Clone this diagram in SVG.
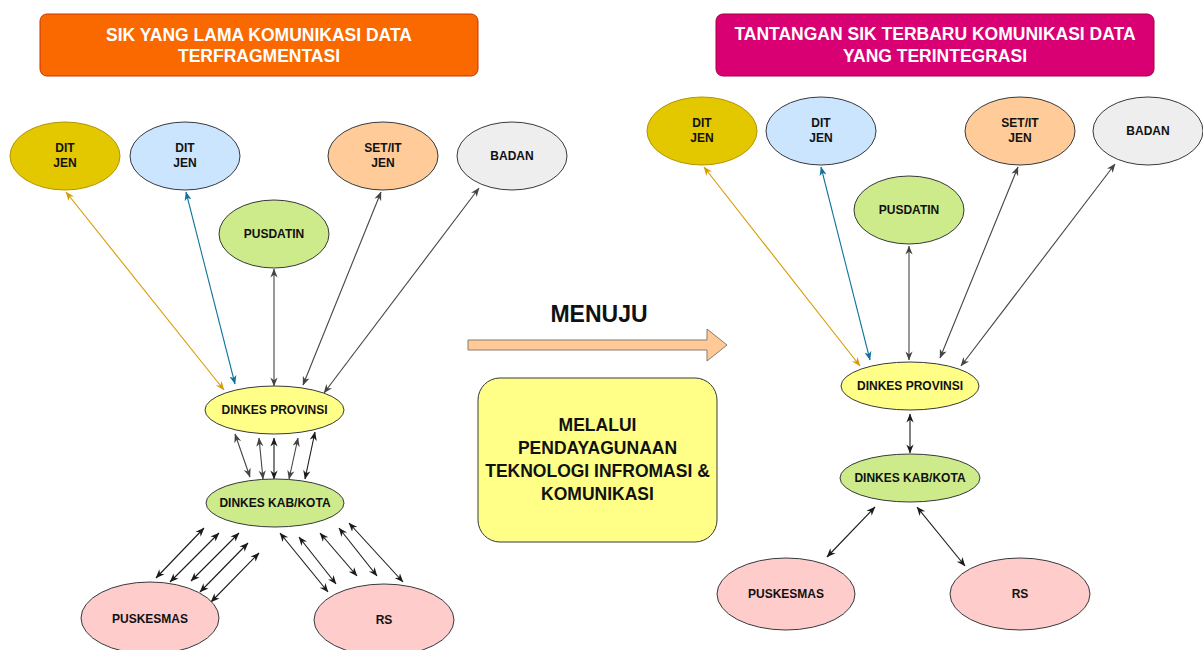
<svg xmlns="http://www.w3.org/2000/svg" width="1203" height="650" viewBox="0 0 1203 650">
  <style>
    .hdr { font-family: "Liberation Sans", Arial, sans-serif; font-weight: bold; font-size: 17.5px; fill: #ffffff; text-anchor: middle; }
    .lbl { font-family: "Liberation Sans", Arial, sans-serif; font-weight: bold; font-size: 12px; fill: #111111; text-anchor: middle; }
    .big { font-family: "Liberation Sans", Arial, sans-serif; font-weight: bold; font-size: 17.5px; fill: #111111; text-anchor: middle; }
    .node { stroke: #36393d; stroke-width: 1; }
    .gold { fill: #e3c800; stroke: #b09500; stroke-width: 1; }
    .blue { fill: #cce5ff; }
    .green { fill: #cdeb8b; }
    .peach { fill: #ffcc99; }
    .grey { fill: #eeeeee; }
    .yellow { fill: #ffff88; }
    .pink { fill: #ffcccc; }
    .c { fill: none; stroke-width: 1.1; }
    .ck { stroke: #1a1a1a; marker-start: url(#ah-k); marker-end: url(#ah-k); }
    .cg { stroke: #444444; marker-start: url(#ah-g); marker-end: url(#ah-g); }
    .cy { stroke: #d79b00; marker-start: url(#ah-y); marker-end: url(#ah-y); }
    .cb { stroke: #10739e; marker-start: url(#ah-b); marker-end: url(#ah-b); }
  </style>
  <defs>
    <marker id="ah-k" viewBox="0 0 10 10" refX="9.5" refY="5" markerWidth="9" markerHeight="9" markerUnits="userSpaceOnUse" orient="auto-start-reverse">
      <path d="M0,1 L10,5 L0,9 L3,5 z" fill="#1a1a1a"/>
    </marker>
    <marker id="ah-g" viewBox="0 0 10 10" refX="9.5" refY="5" markerWidth="9" markerHeight="9" markerUnits="userSpaceOnUse" orient="auto-start-reverse">
      <path d="M0,1 L10,5 L0,9 L3,5 z" fill="#444444"/>
    </marker>
    <marker id="ah-y" viewBox="0 0 10 10" refX="9.5" refY="5" markerWidth="9" markerHeight="9" markerUnits="userSpaceOnUse" orient="auto-start-reverse">
      <path d="M0,1 L10,5 L0,9 L3,5 z" fill="#d79b00"/>
    </marker>
    <marker id="ah-b" viewBox="0 0 10 10" refX="9.5" refY="5" markerWidth="9" markerHeight="9" markerUnits="userSpaceOnUse" orient="auto-start-reverse">
      <path d="M0,1 L10,5 L0,9 L3,5 z" fill="#10739e"/>
    </marker>
  </defs>

  <rect width="1203" height="650" fill="#ffffff"/>

  <!-- headers -->
  <g id="header-old">
    <rect x="40" y="14" width="438" height="62" rx="7" fill="#fa6800" stroke="#c73500"/>
    <text class="hdr" x="259" y="41">SIK YANG LAMA KOMUNIKASI DATA</text>
    <text class="hdr" x="259" y="62">TERFRAGMENTASI</text>
  </g>
  <g id="header-new">
    <rect x="716" y="14" width="438" height="62" rx="7" fill="#d80073" stroke="#a50040"/>
    <text class="hdr" x="935" y="40">TANTANGAN SIK TERBARU KOMUNIKASI DATA</text>
    <text class="hdr" x="935" y="62">YANG TERINTEGRASI</text>
  </g>

  <!-- connectors -->
  <g id="connectors">
    <!-- fragmented: each unit talks to the province separately -->
    <path class="c cy" d="M66,192 L224,390"/>
    <path class="c cb" d="M186,192 L235,384"/>
    <path class="c cg" d="M274,269 L274,386"/>
    <path class="c cg" d="M381,192 L303,385"/>
    <path class="c cg" d="M479,188 L324,393"/>

    <path class="c cg" d="M235,434 L250,477"/>
    <path class="c cg" d="M259,438 L263,479"/>
    <path class="c ck" d="M274,438 L274,479"/>
    <path class="c cg" d="M298,438 L289,479"/>
    <path class="c ck" d="M315,432 L305,479"/>

    <path class="c ck" d="M156,578 L204,528"/>
    <path class="c ck" d="M170,582 L219,533"/>
    <path class="c ck" d="M191,581 L239,533"/>
    <path class="c ck" d="M200,592 L248,543"/>
    <path class="c ck" d="M211,602 L259,553"/>

    <path class="c ck" d="M280,533 L328,592"/>
    <path class="c ck" d="M299,537 L336,584"/>
    <path class="c ck" d="M320,533 L357,576"/>
    <path class="c ck" d="M339,528 L377,576"/>
    <path class="c ck" d="M349,523 L403,582"/>

    <!-- integrated: single channel per level -->
    <path class="c cy" d="M704,167 L860,366"/>
    <path class="c cb" d="M821,167 L870,360"/>
    <path class="c cg" d="M909,246 L909,360"/>
    <path class="c cg" d="M1018,167 L940,358"/>
    <path class="c cg" d="M1115,164 L961,366"/>

    <path class="c ck" d="M910,414 L910,453"/>
    <path class="c ck" d="M875,507 L827,557"/>
    <path class="c ck" d="M917,507 L965,566"/>
  </g>

  <!-- left side nodes -->
  <g id="l-ditjen1"><ellipse class="gold" cx="65" cy="156" rx="55" ry="34"/><text class="lbl" x="65" y="152">DIT</text><text class="lbl" x="65" y="167">JEN</text></g>
  <g id="l-ditjen2"><ellipse class="node blue" cx="185" cy="156" rx="55" ry="34"/><text class="lbl" x="185" y="152">DIT</text><text class="lbl" x="185" y="167">JEN</text></g>
  <g id="l-pusdatin"><ellipse class="node green" cx="274" cy="234" rx="55" ry="34"/><text class="lbl" x="274" y="238">PUSDATIN</text></g>
  <g id="l-setitjen"><ellipse class="node peach" cx="383" cy="156" rx="55" ry="34"/><text class="lbl" x="383" y="152">SET/IT</text><text class="lbl" x="383" y="167">JEN</text></g>
  <g id="l-badan"><ellipse class="node grey" cx="512" cy="156" rx="55" ry="34"/><text class="lbl" x="512" y="160">BADAN</text></g>
  <g id="l-prov"><ellipse class="node yellow" cx="274.5" cy="410" rx="69.5" ry="24"/><text class="lbl" x="274.5" y="414">DINKES PROVINSI</text></g>
  <g id="l-kab"><ellipse class="node green" cx="275" cy="503" rx="69" ry="24"/><text class="lbl" x="275" y="507">DINKES KAB/KOTA</text></g>
  <g id="l-puskesmas"><ellipse class="node pink" cx="150" cy="618" rx="69" ry="36"/><text class="lbl" x="150" y="623">PUSKESMAS</text></g>
  <g id="l-rs"><ellipse class="node pink" cx="384" cy="620" rx="70" ry="36"/><text class="lbl" x="384" y="624">RS</text></g>

  <!-- transition -->
  <g id="menuju">
    <text x="599" y="322" font-family="Liberation Sans, Arial, sans-serif" font-weight="bold" font-size="23" fill="#111111" text-anchor="middle">MENUJU</text>
    <polygon points="468,340 707,340 707,329 727,345 707,361 707,350 468,350" fill="#ffc998" stroke="#8a7a6a" stroke-width="1"/>
  </g>
  <g id="melalui">
    <rect x="478" y="378" width="239" height="164" rx="22" fill="#ffff88" stroke="#36393d"/>
    <text class="big" x="597.5" y="431">MELALUI</text>
    <text class="big" x="597.5" y="454">PENDAYAGUNAAN</text>
    <text class="big" x="597.5" y="477">TEKNOLOGI INFROMASI &amp;</text>
    <text class="big" x="597.5" y="500">KOMUNIKASI</text>
  </g>

  <!-- right side nodes -->
  <g id="r-ditjen1"><ellipse class="gold" cx="702" cy="131" rx="55" ry="34"/><text class="lbl" x="702" y="127">DIT</text><text class="lbl" x="702" y="142">JEN</text></g>
  <g id="r-ditjen2"><ellipse class="node blue" cx="821" cy="131" rx="55" ry="34"/><text class="lbl" x="821" y="127">DIT</text><text class="lbl" x="821" y="142">JEN</text></g>
  <g id="r-pusdatin"><ellipse class="node green" cx="909" cy="210" rx="55" ry="34"/><text class="lbl" x="909" y="214">PUSDATIN</text></g>
  <g id="r-setitjen"><ellipse class="node peach" cx="1020" cy="131" rx="55" ry="34"/><text class="lbl" x="1020" y="127">SET/IT</text><text class="lbl" x="1020" y="142">JEN</text></g>
  <g id="r-badan"><ellipse class="node grey" cx="1148" cy="131" rx="55" ry="34"/><text class="lbl" x="1148" y="135">BADAN</text></g>
  <g id="r-prov"><ellipse class="node yellow" cx="910" cy="386" rx="69" ry="24"/><text class="lbl" x="910" y="390">DINKES PROVINSI</text></g>
  <g id="r-kab"><ellipse class="node green" cx="910" cy="478" rx="70" ry="24"/><text class="lbl" x="910" y="482">DINKES KAB/KOTA</text></g>
  <g id="r-puskesmas"><ellipse class="node pink" cx="786" cy="594" rx="69" ry="36"/><text class="lbl" x="786" y="598">PUSKESMAS</text></g>
  <g id="r-rs"><ellipse class="node pink" cx="1020" cy="594" rx="70" ry="36"/><text class="lbl" x="1020" y="598">RS</text></g>
</svg>
